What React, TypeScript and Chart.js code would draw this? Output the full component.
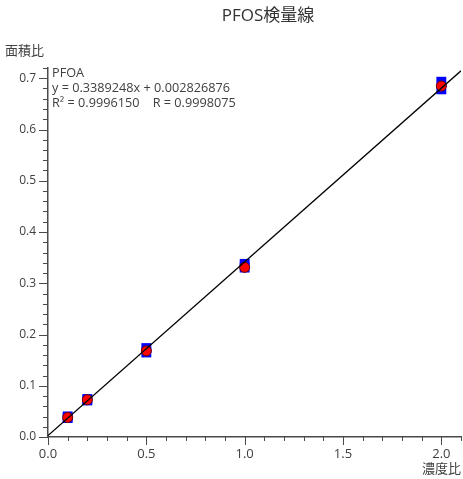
import React, { useEffect, useRef } from "react";
import { Chart, registerables } from "chart.js";

Chart.register(...registerables);

// ---- data ----
const concRatio = [0.1, 0.2, 0.5, 1.0, 2.0];
const replicateA = [0.0402, 0.0741, 0.1735, 0.3378, 0.6932];
const replicateB = [0.0370, 0.0713, 0.1649, 0.3306, 0.6784];
const meanArea = [0.0380, 0.0727, 0.1680, 0.3310, 0.6848];
const slope = 0.3389248;
const intercept = 0.002826876;
const fitX = [0, 2.1];

const titleText = "PFOS検量線";
const yTitle = "面積比";
const xTitle = "濃度比";
const annotationLines = [
  "PFOA",
  "y = 0.3389248x + 0.002826876",
  "R² = 0.9996150    R = 0.9998075",
];

const X_MAX = 2.1;
const Y_MAX = 0.72;

const FONT = '"Open Sans", "Noto Sans CJK JP", sans-serif';
const TEXT = "#404040";
const AXIS = "#4a4a4a";

const overlayPlugin = {
  id: "overlay",
  afterDraw(chart: any) {
    const ctx = chart.ctx as CanvasRenderingContext2D;
    const xs = chart.scales.x;
    const ys = chart.scales.y;
    const area = chart.chartArea;
    ctx.save();
    ctx.strokeStyle = AXIS;
    ctx.lineWidth = 1;
    // x tick marks (major every 0.5, minor every 0.1)
    for (let i = 0; i <= Math.round(X_MAX * 10); i++) {
      const px = Math.round(xs.getPixelForValue(i / 10)) + 0.5;
      const len = i % 5 === 0 ? 8 : 4;
      ctx.beginPath();
      ctx.moveTo(px, area.bottom);
      ctx.lineTo(px, area.bottom + len);
      ctx.stroke();
    }
    // y tick marks (major every 0.1, minor every 0.02)
    for (let i = 0; i <= Math.round(Y_MAX / 0.02); i++) {
      const py = Math.round(ys.getPixelForValue(i * 0.02)) + 0.5;
      const len = i % 5 === 0 ? 9 : 5;
      ctx.beginPath();
      ctx.moveTo(area.left - len, py);
      ctx.lineTo(area.left, py);
      ctx.stroke();
    }
    // title
    ctx.fillStyle = "#333";
    ctx.font = `17px ${FONT}`;
    ctx.textAlign = "center";
    ctx.textBaseline = "middle";
    ctx.fillText(titleText, 268, 16);
    // axis titles
    ctx.fillStyle = TEXT;
    ctx.font = `13px ${FONT}`;
    ctx.textAlign = "left";
    ctx.fillText(yTitle, 5, 51);
    ctx.textAlign = "right";
    ctx.fillText(xTitle, 461, 469);
    // annotation
    ctx.font = `12.7px ${FONT}`;
    ctx.textAlign = "left";
    annotationLines.forEach((t, i) => {
      ctx.fillText(t, area.left + 4, 73 + i * 15);
    });
    ctx.restore();
  },
};

export default function App() {
  const ref = useRef<HTMLCanvasElement | null>(null);
  useEffect(() => {
    if (!ref.current) return;
    const chart = new Chart(ref.current, {
      type: "scatter",
      data: {
        datasets: [
          {
            label: "fit",
            data: fitX.map((x) => ({ x, y: slope * x + intercept })),
            showLine: true,
            borderColor: "#000",
            borderWidth: 1.3,
            pointRadius: 0,
            order: 0,
          },
          {
            label: "mean",
            data: concRatio.map((x, i) => ({ x, y: meanArea[i] })),
            pointStyle: "circle",
            pointRadius: 5,
            backgroundColor: "#ff0000",
            borderColor: "#6a0000",
            borderWidth: 1,
            order: 1,
          },
          {
            label: "rep",
            data: [
              ...concRatio.map((x, i) => ({ x, y: replicateA[i] })),
              ...concRatio.map((x, i) => ({ x, y: replicateB[i] })),
            ],
            pointStyle: "rect",
            pointRadius: 7,
            backgroundColor: "#0000ff",
            borderColor: "#0000ff",
            borderWidth: 0,
            order: 2,
          },
        ],
      },
      options: {
        responsive: false,
        animation: false,
        events: [],
        layout: { autoPadding: false, padding: { top: 68, right: 2, left: 0, bottom: 0 } },
        plugins: {
          legend: { display: false },
          title: { display: false },
          tooltip: { enabled: false },
        },
        scales: {
          x: {
            type: "linear",
            min: 0,
            max: X_MAX,
            grid: { display: false, drawTicks: false },
            border: { display: true, color: AXIS, width: 1.5 },
            ticks: {
              stepSize: 0.5,
              includeBounds: false,
              padding: 9,
              color: TEXT,
              font: { family: FONT, size: 13 },
              callback: (v: any) => Number(v).toFixed(1),
            },
            afterFit: (s: any) => {
              s.height = 42;
              s.paddingLeft = 0;
              s.paddingRight = 0;
            },
          },
          y: {
            type: "linear",
            min: 0,
            max: Y_MAX,
            grid: { display: false, drawTicks: false },
            border: { display: true, color: AXIS, width: 1.5 },
            ticks: {
              stepSize: 0.1,
              includeBounds: false,
              padding: 12,
              color: TEXT,
              font: { family: FONT, size: 12 },
              callback: (v: any) => Number(v).toFixed(1),
            },
            afterFit: (s: any) => {
              s.width = 48;
              s.paddingTop = 0;
              s.paddingBottom = 0;
            },
          },
        },
      },
      plugins: [overlayPlugin],
    } as any);
    return () => chart.destroy();
  }, []);
  return (
    <canvas
      ref={ref}
      width={463}
      height={479}
      style={{ position: "absolute", left: 0, top: 0, width: 463, height: 479 }}
    />
  );
}
